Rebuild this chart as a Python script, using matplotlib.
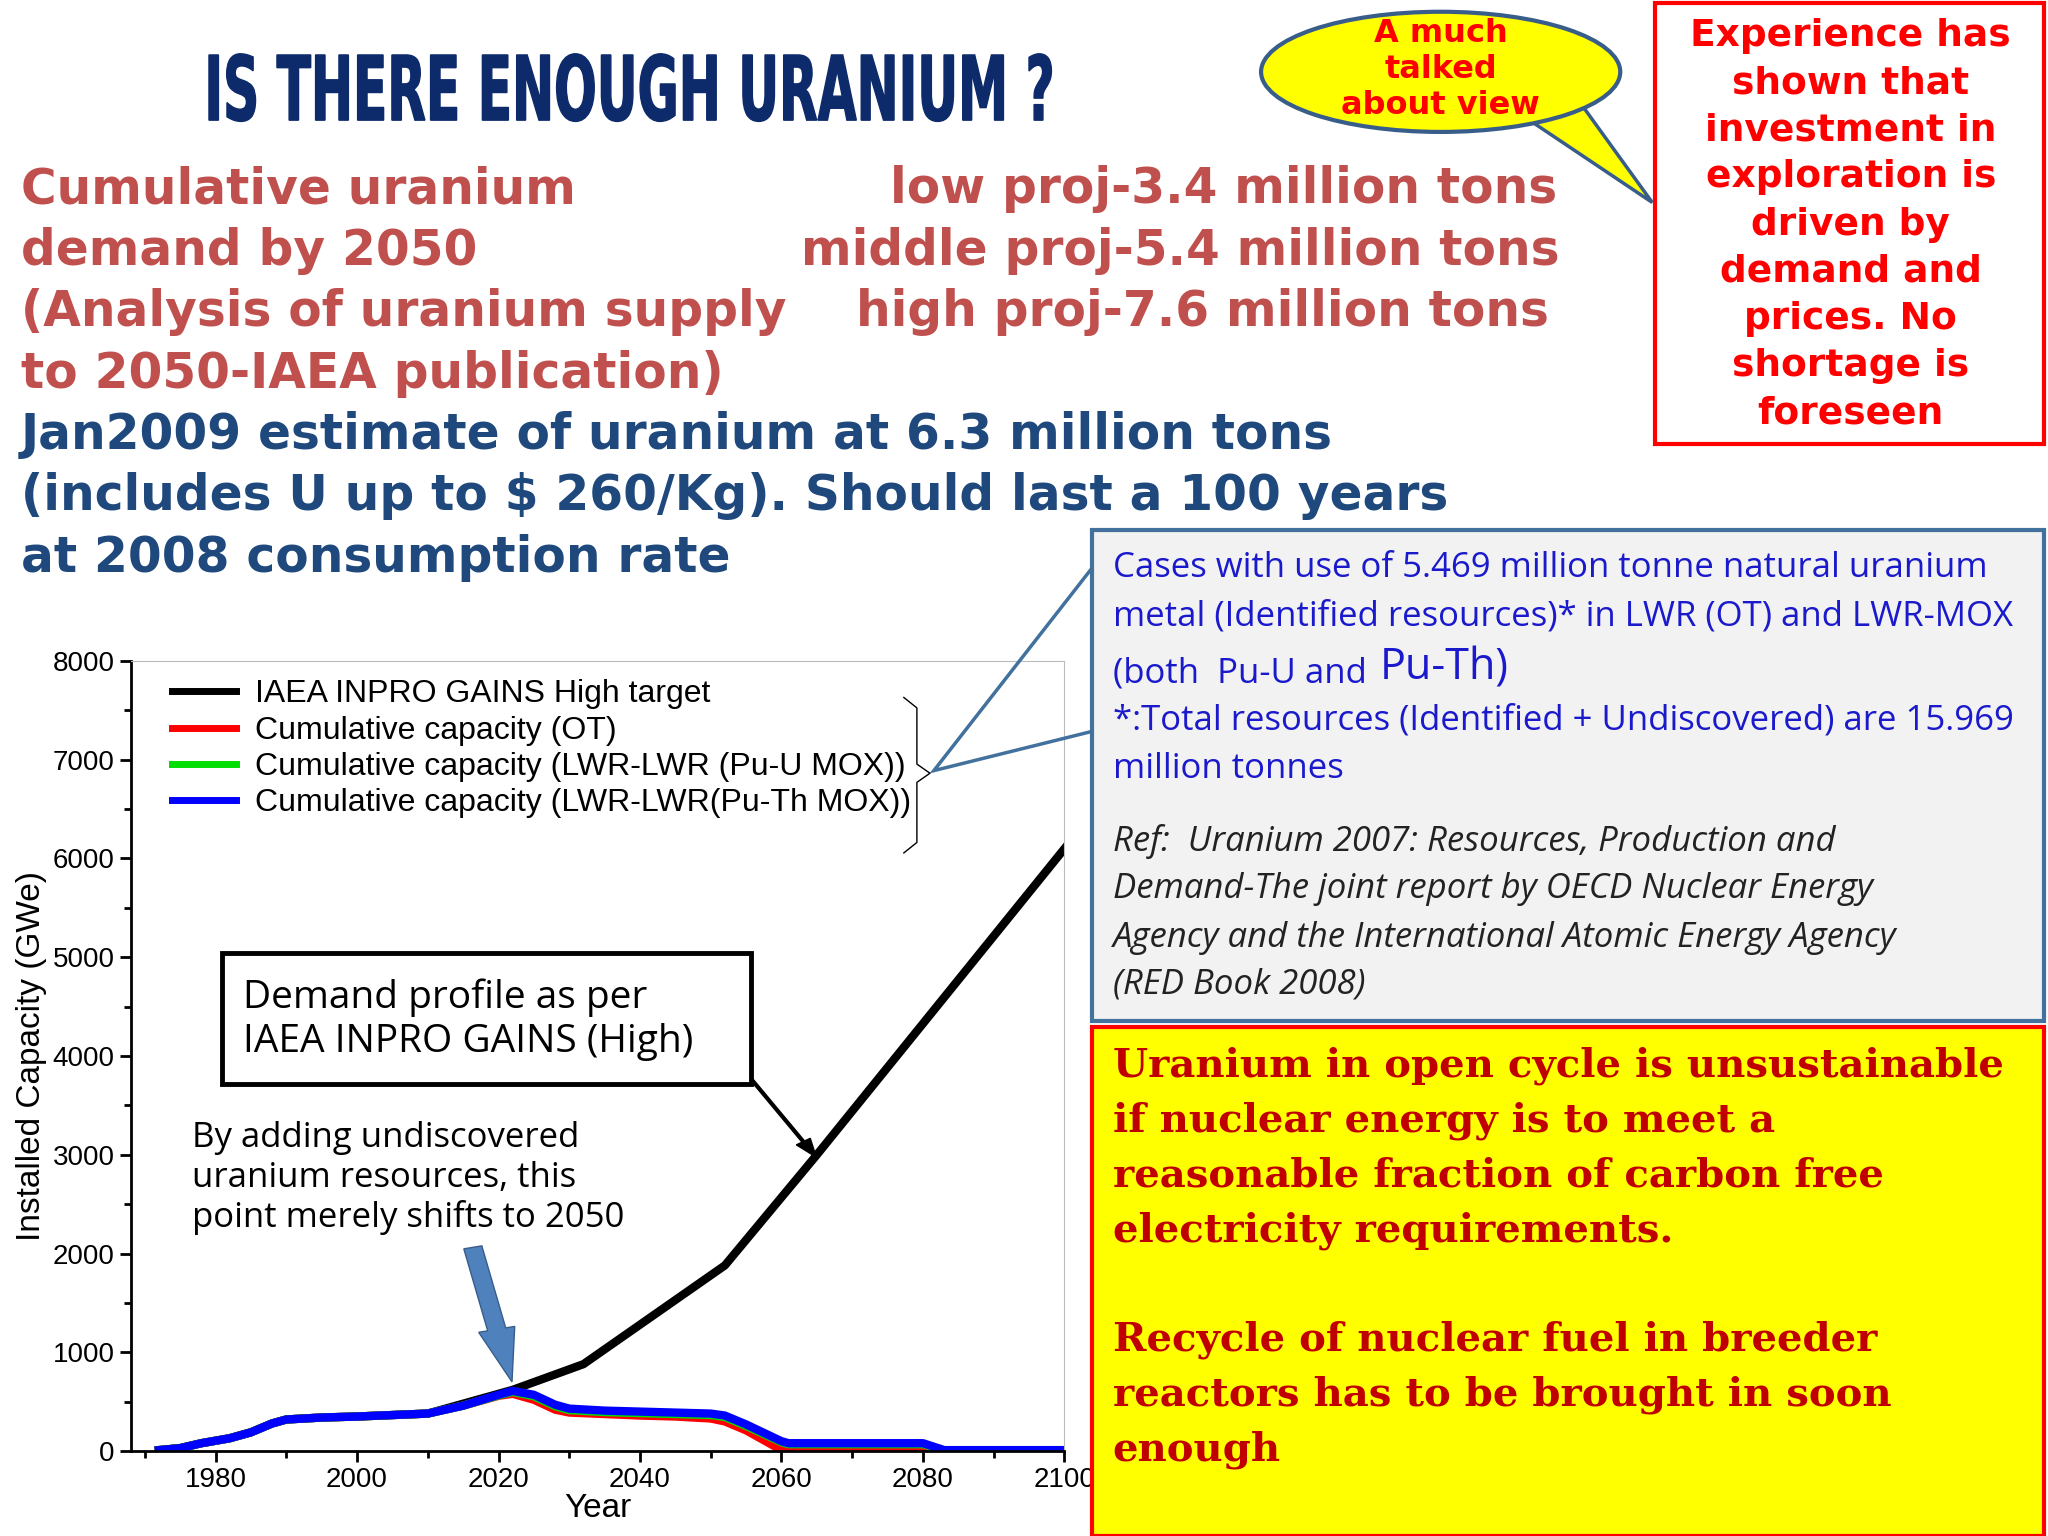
import matplotlib
matplotlib.use("Agg")
import matplotlib.pyplot as plt
from matplotlib.patches import Ellipse, Rectangle, Polygon, FancyArrow, PathPatch
from matplotlib.lines import Line2D
from matplotlib.textpath import TextPath
from matplotlib.font_manager import FontProperties
from matplotlib.transforms import Affine2D

years_black = [1972, 1975, 1978, 1982, 1985, 1988, 1990, 1995, 2000, 2005, 2010, 2022, 2032, 2052, 2065, 2100]
black = [10, 30, 80, 130, 190, 280, 320, 340, 350, 365, 380, 620, 880, 1880, 3000, 6100]
years = [1972, 1975, 1978, 1982, 1985, 1988, 1990, 1995, 2000, 2005, 2010, 2015, 2020, 2022, 2025, 2028, 2030, 2035, 2040, 2045, 2050, 2052, 2055, 2060, 2061, 2080, 2083, 2100]
blue = [10, 30, 80, 130, 190, 280, 320, 340, 350, 365, 380, 460, 570, 610, 570, 470, 430, 410, 400, 390, 380, 360, 270, 100, 80, 80, 10, 10]
green = [10, 30, 80, 130, 190, 280, 320, 340, 350, 365, 380, 460, 565, 600, 555, 455, 415, 395, 385, 375, 365, 345, 255, 90, 70, 70, 5, 5]
red = [10, 30, 80, 130, 190, 280, 320, 340, 350, 365, 380, 460, 560, 580, 520, 420, 390, 375, 360, 350, 330, 300, 210, 10, 5, 5, 0, 0]
labels = ["IAEA INPRO GAINS High target", "Cumulative capacity (OT)",
          "Cumulative capacity (LWR-LWR (Pu-U MOX))", "Cumulative capacity (LWR-LWR(Pu-Th MOX))"]

W, H = 1568.0, 1176.0
S = 2048 / W  # displayed px -> output px
def P(x, y):
    return (x / W, 1 - y / H)

plt.rcParams['font.family'] = ['Liberation Sans', 'DejaVu Sans']
fig = plt.figure(figsize=(20.48, 15.36), dpi=100)
fig.patch.set_facecolor("white")
T = fig.transFigure

ax = fig.add_axes([100 / W, 1 - 1111 / H, (815 - 100) / W, (1111 - 506) / H])
ax.plot(years_black, black, color="black", lw=6, label=labels[0], solid_joinstyle="round")
ax.plot(years, red, color="red", lw=6, label=labels[1])
ax.plot(years, green, color="#00dd00", lw=6, label=labels[2])
ax.plot(years, blue, color="blue", lw=6, label=labels[3])
ax.set_xlim(1968, 2100)
ax.set_ylim(0, 8000)
ax.set_xticks([1980, 2000, 2020, 2040, 2060, 2080, 2100])
ax.set_xticks(range(1970, 2101, 10), minor=True)
ax.set_yticks(range(0, 8001, 1000))
ax.set_yticks(range(500, 8000, 1000), minor=True)
ax.tick_params(labelsize=20, width=2, length=8, direction="out")
ax.tick_params(which="minor", width=2, length=5)
for s in ["top", "right"]:
    ax.spines[s].set_color("#bbbbbb")
for s in ["left", "bottom"]:
    ax.spines[s].set_linewidth(2)
ax.set_xlabel("Year", fontsize=24, labelpad=0)
ax.set_ylabel("Installed Capacity (GWe)", fontsize=24)
leg = ax.legend(loc="upper left", fontsize=23, frameon=False, handlelength=2.0,
                borderaxespad=0.3, labelspacing=0.2, handletextpad=0.6,
                bbox_to_anchor=(0.02, 1.005))
for l in leg.get_lines():
    l.set_linewidth(5)

# brace
fig.add_artist(Line2D([x / W for x in [692, 702, 702, 712, 702, 702, 692]],
                      [1 - y / H for y in [534, 542, 585, 592, 599, 645, 653]],
                      color="black", lw=1, transform=T))

# annotation box
fig.add_artist(Rectangle(P(170, 830), 405 / W, 100 / H, transform=T, fc="white", ec="black", lw=3.5))
fig.text(*P(186, 781), "Demand profile as per\nIAEA INPRO GAINS (High)", fontsize=28,
         family="Open Sans", va="center", linespacing=1.2)
fig.add_artist(FancyArrow(*P(575, 826), 50 / W, -60 / H, transform=T, width=0.0015,
                          head_width=0.008, head_length=0.012, length_includes_head=True,
                          color="black"))
fig.text(*P(147, 902), "By adding undiscovered\nuranium resources, this\npoint merely shifts to 2050",
         fontsize=25, family="Open Sans", va="center", linespacing=1.2)
fig.add_artist(FancyArrow(*P(362, 955), 30 / W, -103 / H, transform=T, width=0.009,
                          head_width=0.018, head_length=0.035, length_includes_head=True,
                          fc="#4f81bd", ec="#385d8a", lw=1))

# title (condensed by horizontal scaling)
title = "IS THERE ENOUGH URANIUM ?"
tp = TextPath((0, 0), title, size=100, prop=FontProperties(family="DejaVu Sans", weight="bold"))
bb = tp.get_extents()
tw, th = (805 - 160) * S, 50 * S
tr = Affine2D().translate(-bb.x0, 0).scale(tw / bb.width, th / 73.0).translate(160 * S, (H - 92) * S)
fig.add_artist(PathPatch(tr.transform_path(tp), fc="#0d2a6b", ec="#0d2a6b", lw=1, transform=None))

red_c = "#c0504d"
left = ["Cumulative uranium", "demand by 2050", "(Analysis of uranium supply", "to 2050-IAEA publication)"]
right = ["low proj-3.4 million tons", "middle proj-5.4 million tons", "high proj-7.6 million tons"]
ys = [145, 192, 239, 286]
for t, y in zip(left, ys):
    fig.text(*P(16, y), t, fontsize=35, fontweight="bold", color=red_c, va="center", family="DejaVu Sans")
for t, y, x in zip(right, ys, [1192, 1194, 1186]):
    fig.text(*P(x, y), t, fontsize=35, fontweight="bold", color=red_c, va="center", ha="right",
             family="DejaVu Sans")
blue_lines = ["Jan2009 estimate of uranium at 6.3 million tons",
              "(includes U up to $ 260/Kg). Should last a 100 years",
              "at 2008 consumption rate"]
for t, y in zip(blue_lines, [333, 380, 427]):
    fig.text(*P(16, y), t, fontsize=35, fontweight="bold", color="#1f497d", va="center",
             family="DejaVu Sans")

# speech bubble
fig.add_artist(Polygon([P(1165, 88), P(1265, 155), P(1205, 72)], closed=True, transform=T,
                       fc="#ffff00", ec="#385d8a", lw=2.5))
fig.add_artist(Ellipse(P(1103, 55), 275 / W, 92 / H, transform=T, fc="#ffff00", ec="#385d8a", lw=3))
fig.text(*P(1103, 53), "A much\ntalked\nabout view", fontsize=23, fontweight="bold", color="red",
         ha="center", va="center", linespacing=1.2, family="DejaVu Sans")

# red box
fig.add_artist(Rectangle(P(1267, 340), 298 / W, 338 / H, transform=T, fc="white", ec="red", lw=3))
fig.text(*P(1417, 172), "Experience has\nshown that\ninvestment in\nexploration is\ndriven by\ndemand and\nprices. No\nshortage is\nforeseen",
         fontsize=27, fontweight="bold", color="red", ha="center", va="center", linespacing=1.4,
         family="DejaVu Sans")

# gray box with callout
fig.add_artist(Polygon([P(836, 435), P(715, 590), P(836, 560)], closed=False, transform=T,
                       fill=False, ec="#41719c", lw=2.5))
fig.add_artist(Rectangle(P(836, 782), 729 / W, 376 / H, transform=T, fc="#f2f2f2", ec="#41719c", lw=3))
bc = "#1a1acc"
blines = [(435, "Cases with use of 5.469 million tonne natural uranium"),
          (472, "metal (Identified resources)* in LWR (OT) and LWR-MOX"),
          (552, "*:Total resources (Identified + Undiscovered) are 15.969"),
          (589, "million tonnes")]
for y, t in blines:
    fig.text(*P(852, y), t, fontsize=25, color=bc, va="center", family="Open Sans")
fig.text(*P(852, 516), "(both  Pu-U and", fontsize=25, color=bc, va="center", family="Open Sans")
fig.text(*P(1056, 512), "Pu-Th)", fontsize=31, color=bc, va="center", family="Open Sans")
fig.add_artist(Rectangle(P(845, 533), 700 / W, 8 / H, transform=T, fc="#f2f2f2", ec="none"))
ilines = ["Ref:  Uranium 2007: Resources, Production and",
          "Demand-The joint report by OECD Nuclear Energy",
          "Agency and the International Atomic Energy Agency",
          "(RED Book 2008)"]
for t, y in zip(ilines, [644, 681, 718, 754]):
    fig.text(*P(852, y), t, fontsize=25, color="#222222", style="italic", va="center",
             family="Open Sans")

# yellow box
fig.add_artist(Rectangle(P(836, 1176), 729 / W, 390 / H, transform=T, fc="#ffff00", ec="red", lw=3))
ylines = ["Uranium in open cycle is unsustainable", "if nuclear energy is to meet a",
          "reasonable fraction of carbon free", "electricity requirements.", "",
          "Recycle of nuclear fuel in breeder", "reactors has to be brought in soon", "enough"]
for i, t in enumerate(ylines):
    fig.text(*P(852, 816 + i * 42), t, fontsize=29, fontweight="bold", color="#c00000",
             va="center", family="DejaVu Serif")

fig.savefig("out.png", dpi=100)
